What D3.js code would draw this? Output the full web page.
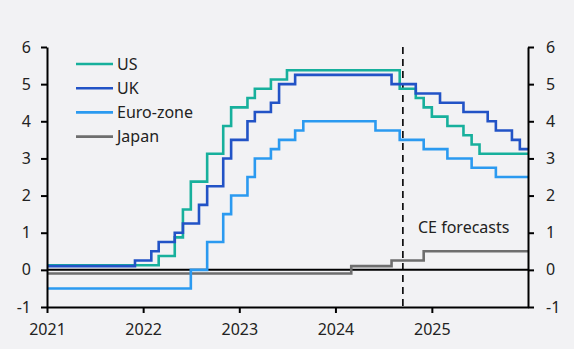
<!DOCTYPE html>
<html>
<head>
<meta charset="utf-8">
<script src="https://cdn.jsdelivr.net/npm/d3@7"></script>
<style>
  body { margin: 0; background: #f2f2f4; }
  svg { display: block; font-family: "Noto Sans", "Open Sans", sans-serif; }
</style>
</head>
<body>
<div id="chart"></div>
<script>
// policy rates, monthly steps: [month the rate applies from, rate %]
var usSteps = [
  ["2021-01", 0.125], ["2022-03", 0.375], ["2022-05", 0.875], ["2022-06", 1.625],
  ["2022-07", 2.375], ["2022-09", 3.125], ["2022-11", 3.875], ["2022-12", 4.375],
  ["2023-02", 4.625], ["2023-03", 4.875], ["2023-05", 5.125], ["2023-07", 5.375],
  ["2024-09", 4.875], ["2024-11", 4.625], ["2024-12", 4.375], ["2025-01", 4.125],
  ["2025-03", 3.875], ["2025-05", 3.625], ["2025-06", 3.375], ["2025-07", 3.125]
];
var ukSteps = [
  ["2021-01", 0.1], ["2021-12", 0.25], ["2022-02", 0.5], ["2022-03", 0.75],
  ["2022-05", 1.0], ["2022-06", 1.25], ["2022-08", 1.75], ["2022-09", 2.25],
  ["2022-11", 3.0], ["2022-12", 3.5], ["2023-02", 4.0], ["2023-03", 4.25],
  ["2023-05", 4.5], ["2023-06", 5.0], ["2023-08", 5.25], ["2024-08", 5.0],
  ["2024-11", 4.75], ["2025-02", 4.5], ["2025-05", 4.25], ["2025-08", 4.0],
  ["2025-09", 3.75], ["2025-11", 3.5], ["2025-12", 3.25]
];
var ezSteps = [
  ["2021-01", -0.5], ["2022-07", 0.0], ["2022-09", 0.75], ["2022-11", 1.5],
  ["2022-12", 2.0], ["2023-02", 2.5], ["2023-03", 3.0], ["2023-05", 3.25],
  ["2023-06", 3.5], ["2023-08", 3.75], ["2023-09", 4.0], ["2024-06", 3.75],
  ["2024-09", 3.5], ["2024-12", 3.25], ["2025-03", 3.0], ["2025-06", 2.75],
  ["2025-09", 2.5]
];
var jpSteps = [
  ["2021-01", -0.1], ["2024-03", 0.1], ["2024-08", 0.25], ["2024-12", 0.5]
];

var seriesNames = ["US", "UK", "Euro-zone", "Japan"];
var seriesColors = ["#17b09c", "#2253c6", "#2b9af0", "#6e6e6e"];
var yearTicks = ["2021", "2022", "2023", "2024", "2025"];
var yTicks = [-1, 0, 1, 2, 3, 4, 5, 6];
var endMonth = "2026-01";
var forecastStart = "2024-09-13";

var parseMonth = d3.timeParse("%Y-%m");
var parseDay = d3.timeParse("%Y-%m-%d");
var parseYear = d3.timeParse("%Y");

var width = 574, height = 349;
var margin = { left: 47, right: 528, top: 47, bottom: 307 };

var svg = d3.select("#chart").append("svg")
  .attr("width", width)
  .attr("height", height);

var x = d3.scaleTime()
  .domain([parseMonth("2021-01"), parseMonth(endMonth)])
  .range([margin.left, margin.right]);

var y = d3.scaleLinear()
  .domain([-1, 6])
  .range([margin.bottom, margin.top]);

// zero line
svg.append("line")
  .attr("x1", margin.left).attr("x2", margin.right)
  .attr("y1", y(0)).attr("y2", y(0))
  .attr("stroke", "#000")
  .attr("stroke-width", 2);

// forecast marker
svg.append("line")
  .attr("x1", x(parseDay(forecastStart))).attr("x2", x(parseDay(forecastStart)))
  .attr("y1", y(6)).attr("y2", y(-1))
  .attr("stroke", "#000")
  .attr("stroke-width", 1.6)
  .attr("stroke-dasharray", "7,5");

svg.append("text")
  .attr("x", 418)
  .attr("y", 233)
  .attr("font-size", "16px")
  .attr("fill", "#222")
  .text("CE forecasts");

var line = d3.line()
  .curve(d3.curveStepAfter)
  .x(function(d) { return x(d[0]); })
  .y(function(d) { return y(d[1]); });

function toPoints(steps) {
  var pts = steps.map(function(d) { return [parseMonth(d[0]), d[1]]; });
  pts.push([parseMonth(endMonth), steps[steps.length - 1][1]]);
  return pts;
}

var allSeries = [usSteps, ukSteps, ezSteps, jpSteps];

// UK sits on top of US where they overlap at the start
[3, 2, 0, 1].forEach(function(i) {
  svg.append("path")
    .attr("d", line(toPoints(allSeries[i])))
    .attr("fill", "none")
    .attr("stroke", seriesColors[i])
    .attr("stroke-width", 2.6);
});

// axes
var plainNum = function(d) { return String(d); };

var yLeft = svg.append("g")
  .attr("transform", "translate(" + margin.left + ",0)")
  .call(d3.axisLeft(y).tickValues(yTicks).tickFormat(plainNum)
    .tickSize(6).tickSizeOuter(0).tickPadding(10));

var yRight = svg.append("g")
  .attr("transform", "translate(" + margin.right + ",0)")
  .call(d3.axisRight(y).tickValues(yTicks).tickFormat(plainNum)
    .tickSize(6).tickSizeOuter(0).tickPadding(12));

var xAxis = svg.append("g")
  .attr("transform", "translate(0," + margin.bottom + ")")
  .call(d3.axisBottom(x)
    .tickValues(yearTicks.map(function(d) { return parseYear(d); }))
    .tickFormat(d3.timeFormat("%Y"))
    .tickSize(6).tickSizeOuter(0).tickPadding(11));

[yLeft, yRight, xAxis].forEach(function(g) {
  g.selectAll("path, line").attr("stroke", "#000").attr("stroke-width", 2);
  g.selectAll("text")
    .attr("fill", "#222")
    .style("font-size", "16px")
    .style("font-family", "'Noto Sans', sans-serif");
});

// legend
var legend = svg.append("g")
  .attr("transform", "translate(76,64)");

seriesNames.forEach(function(name, i) {
  var row = legend.append("g").attr("transform", "translate(0," + (i * 24.2) + ")");
  row.append("line")
    .attr("x1", 0).attr("x2", 37)
    .attr("stroke", seriesColors[i])
    .attr("stroke-width", 2.6);
  row.append("text")
    .attr("x", 41)
    .attr("dy", "0.35em")
    .attr("font-size", "16px")
    .attr("fill", "#222")
    .text(name);
});
</script>
</body>
</html>
